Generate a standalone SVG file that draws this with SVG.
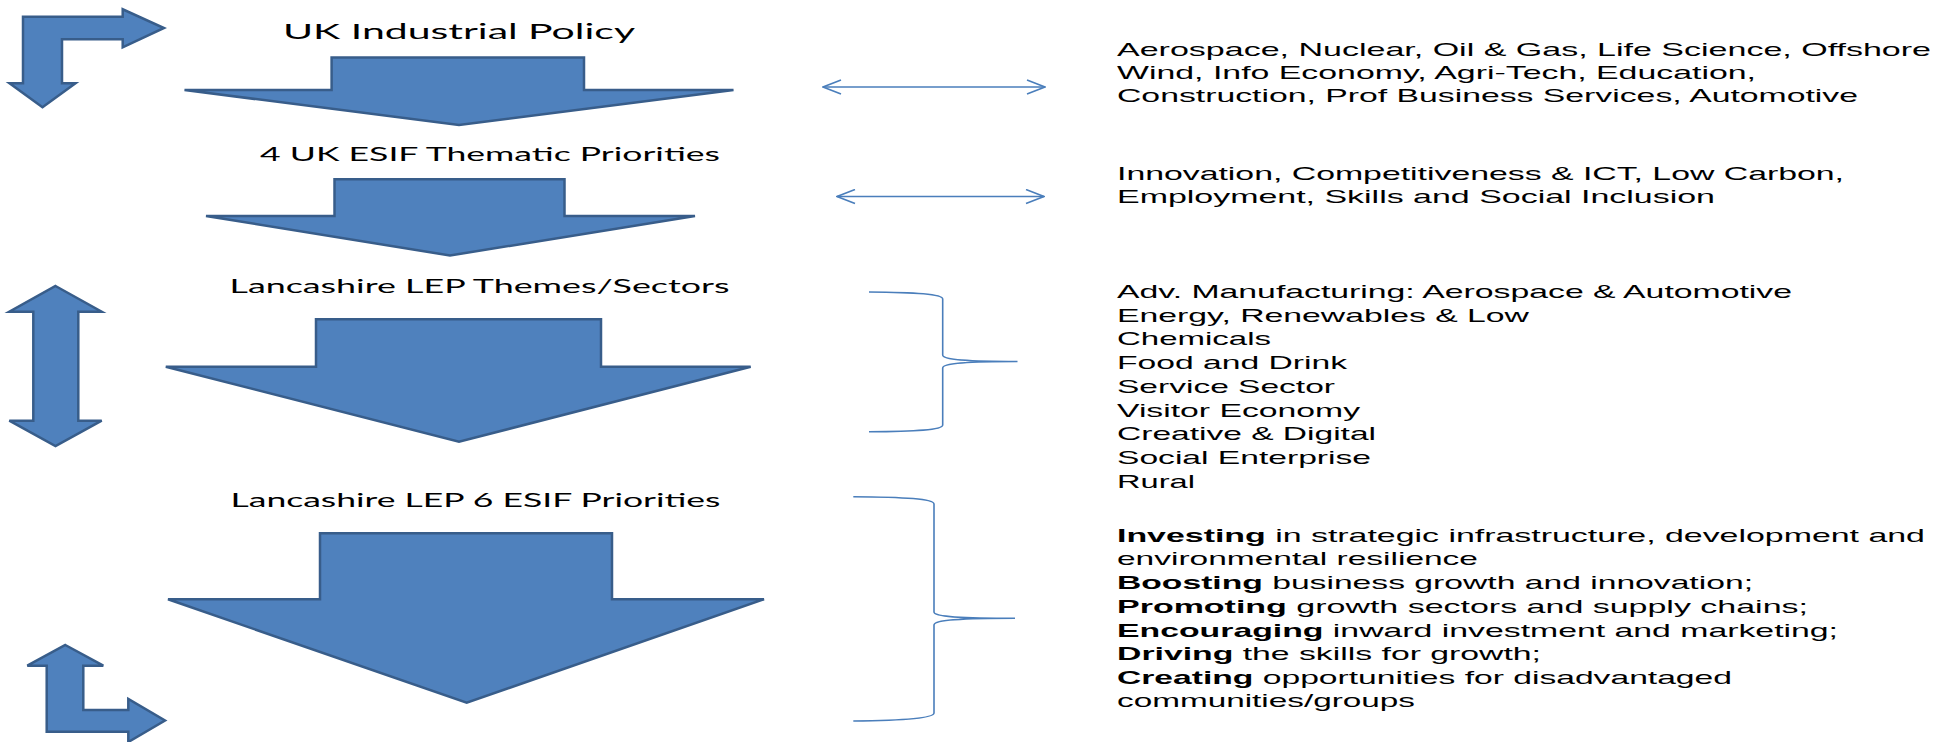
<svg xmlns="http://www.w3.org/2000/svg" width="1937" height="742" viewBox="0 0 1937 742">
  <style>
    .block { fill: #4F81BD; stroke: #385D8A; stroke-width: 2.5; stroke-linejoin: miter; }
    .title { font-family: Lato, "Open Sans", "Liberation Sans", sans-serif; fill: #000; }
    .body { font-family: "Liberation Sans", Arial, sans-serif; font-size: 18.5px; fill: #000; }
    .link { fill: none; stroke: #4A7EBB; stroke-width: 1.6; }
  </style>
  <defs>
    <marker id="openHead" viewBox="0 0 20 16" refX="19" refY="8" markerWidth="20" markerHeight="16" markerUnits="userSpaceOnUse" orient="auto-start-reverse">
      <path d="M1,1 L19,8 L1,15" fill="none" stroke="#4A7EBB" stroke-width="1.6"/>
    </marker>
  </defs>

  <rect width="1937" height="742" fill="#fff"/>

  <!-- side arrows on the left -->
  <g id="bend-top">
    <path class="block" d="M23,16.7 L122.7,16.7 L122.7,9.3 L164,28 L122.7,47.3 L122.7,39.3 L62,39.3 L62,83.3 L75.5,83.3 L42.5,107.3 L9.5,83.3 L23,83.3 Z"/>
  </g>
  <g id="updown">
    <path class="block" d="M55.5,286 L101.7,311.7 L78.3,311.7 L78.3,420.7 L101.7,420.7 L55.5,446 L9.3,420.7 L33.3,420.7 L33.3,311.7 L9.3,311.7 Z"/>
  </g>
  <g id="bend-bottom">
    <path class="block" d="M65.3,645 L103.3,665.7 L83.3,665.7 L83.3,710 L128.3,710 L128.3,699 L165,720.5 L128.3,742 L128.3,731.7 L46.7,731.7 L46.7,665.7 L27.3,665.7 Z"/>
  </g>

  <!-- level 1 -->
  <g id="uk-industrial-policy">
    <text class="title" x="283" y="39.3" font-size="21" textLength="352" lengthAdjust="spacingAndGlyphs">UK Industrial Policy</text>
    <path class="block" d="M331.6,57.5 L584,57.5 L584,90 L733.5,90 L459,125 L184.5,90 L331.6,90 Z"/>
  </g>

  <!-- level 2 -->
  <g id="uk-esif-priorities">
    <text class="title" x="260" y="160.7" font-size="19.5" textLength="460" lengthAdjust="spacingAndGlyphs">4 UK ESIF Thematic Priorities</text>
    <path class="block" d="M334.5,179.3 L564.5,179.3 L564.5,216 L695,216 L450,255.5 L206,216 L334.5,216 Z"/>
  </g>

  <!-- level 3 -->
  <g id="lep-themes">
    <text class="title" x="229.5" y="293.3" font-size="19.5" textLength="500" lengthAdjust="spacingAndGlyphs">Lancashire LEP Themes/Sectors</text>
    <path class="block" d="M316,319.3 L601,319.3 L601,366.7 L750.7,366.7 L459,441.7 L165.8,366.7 L316,366.7 Z"/>
  </g>

  <!-- level 4 -->
  <g id="lep-esif-priorities">
    <text class="title" x="230.5" y="506.7" font-size="19.5" textLength="490" lengthAdjust="spacingAndGlyphs">Lancashire LEP 6 ESIF Priorities</text>
    <path class="block" d="M320,533.3 L612,533.3 L612,599.3 L764,599.3 L466.7,702.7 L168,599.3 L320,599.3 Z"/>
  </g>

  <!-- right-hand lists -->
  <g id="sectors-list">
    <text class="body" x="1117" y="56" textLength="814" lengthAdjust="spacingAndGlyphs">Aerospace, Nuclear, Oil &amp; Gas, Life Science, Offshore</text>
    <text class="body" x="1117" y="79.3" textLength="639" lengthAdjust="spacingAndGlyphs">Wind, Info Economy, Agri-Tech, Education,</text>
    <text class="body" x="1117" y="101.7" textLength="741" lengthAdjust="spacingAndGlyphs">Construction, Prof Business Services, Automotive</text>
  </g>
  <g id="thematic-list">
    <text class="body" x="1117" y="180" textLength="727" lengthAdjust="spacingAndGlyphs">Innovation, Competitiveness &amp; ICT, Low Carbon,</text>
    <text class="body" x="1117" y="203" textLength="598" lengthAdjust="spacingAndGlyphs">Employment, Skills and Social Inclusion</text>
  </g>
  <g id="themes-list">
    <text class="body" x="1117" y="298.3" textLength="675" lengthAdjust="spacingAndGlyphs">Adv. Manufacturing: Aerospace &amp; Automotive</text>
    <text class="body" x="1117" y="321.7" textLength="412" lengthAdjust="spacingAndGlyphs">Energy, Renewables &amp; Low</text>
    <text class="body" x="1117" y="345" textLength="154" lengthAdjust="spacingAndGlyphs">Chemicals</text>
    <text class="body" x="1117" y="369.3" textLength="230" lengthAdjust="spacingAndGlyphs">Food and Drink</text>
    <text class="body" x="1117" y="393.3" textLength="218" lengthAdjust="spacingAndGlyphs">Service Sector</text>
    <text class="body" x="1117" y="416.7" textLength="243" lengthAdjust="spacingAndGlyphs">Visitor Economy</text>
    <text class="body" x="1117" y="440" textLength="259" lengthAdjust="spacingAndGlyphs">Creative &amp; Digital</text>
    <text class="body" x="1117" y="464" textLength="254" lengthAdjust="spacingAndGlyphs">Social Enterprise</text>
    <text class="body" x="1117" y="487.7" textLength="78" lengthAdjust="spacingAndGlyphs">Rural</text>
  </g>
  <g id="priorities-list">
    <text class="body" x="1117" y="542.3" textLength="808" lengthAdjust="spacingAndGlyphs"><tspan font-weight="bold">Investing</tspan> in strategic infrastructure, development and</text>
    <text class="body" x="1117" y="565" textLength="361" lengthAdjust="spacingAndGlyphs">environmental resilience</text>
    <text class="body" x="1117" y="589.3" textLength="636" lengthAdjust="spacingAndGlyphs"><tspan font-weight="bold">Boosting</tspan> business growth and innovation;</text>
    <text class="body" x="1117" y="613.3" textLength="691" lengthAdjust="spacingAndGlyphs"><tspan font-weight="bold">Promoting</tspan> growth sectors and supply chains;</text>
    <text class="body" x="1117" y="636.7" textLength="721" lengthAdjust="spacingAndGlyphs"><tspan font-weight="bold">Encouraging</tspan> inward investment and marketing;</text>
    <text class="body" x="1117" y="660" textLength="424" lengthAdjust="spacingAndGlyphs"><tspan font-weight="bold">Driving</tspan> the skills for growth;</text>
    <text class="body" x="1117" y="684" textLength="615" lengthAdjust="spacingAndGlyphs"><tspan font-weight="bold">Creating</tspan> opportunities for disadvantaged</text>
    <text class="body" x="1117" y="706.7" textLength="298" lengthAdjust="spacingAndGlyphs">communities/groups</text>
  </g>

  <!-- connectors: two-way arrows and braces -->
  <g id="connectors">
    <line class="link" x1="823" y1="87" x2="1045" y2="87" marker-start="url(#openHead)" marker-end="url(#openHead)"/>
    <line class="link" x1="837" y1="196.5" x2="1044" y2="196.5" marker-start="url(#openHead)" marker-end="url(#openHead)"/>
    <path class="link" d="M869,292 C915,292.4 942.7,294 942.7,299 L942.7,355 C942.7,359.5 965,361.5 1017.5,361.5 C965,361.5 942.7,363.5 942.7,368 L942.7,425 C942.7,430 915,431.5 869,431.7"/>
    <path class="link" d="M853.3,496.7 C905,497 934,499 934,504 L934,612 C934,616.5 958,618.3 1015,618.3 C958,618.3 934,620 934,625 L934,713 C934,718 905,720.5 853.3,721"/>
  </g>
</svg>
